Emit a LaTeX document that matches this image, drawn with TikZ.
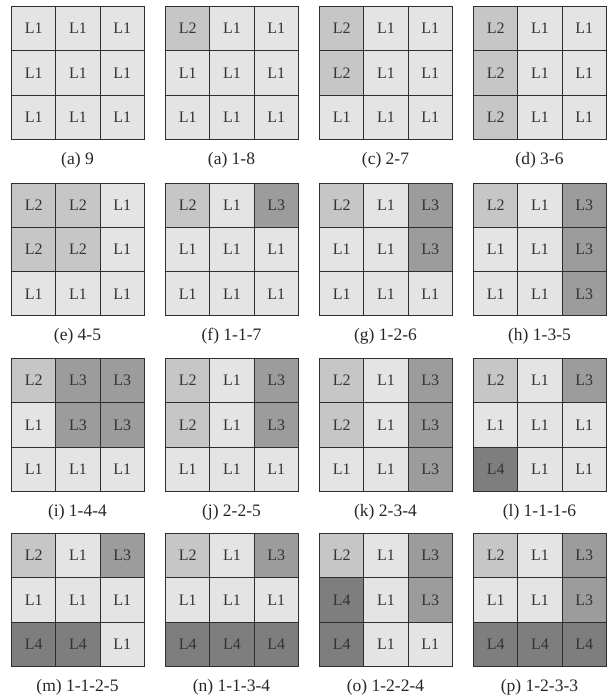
\documentclass[tikz,border=0pt]{standalone}
\usepackage{fontspec}
\setmainfont{Liberation Serif}
\definecolor{LevOne}{HTML}{E4E4E4}
\definecolor{LevTwo}{HTML}{C6C6C6}
\definecolor{LevThree}{HTML}{9C9C9C}
\definecolor{LevFour}{HTML}{7E7E7E}
\definecolor{GridLine}{HTML}{2E2E2E}
\definecolor{LabText}{HTML}{333333}

\begin{document}
\begin{tikzpicture}[x=1pt, y=-1pt,
            cell/.style={draw=GridLine, line width=1pt, minimum size=44.33pt,
                         inner sep=0pt, anchor=north west, text=LabText,
                         font=\fontsize{16}{16}\selectfont},
            lv1/.style={cell, fill=LevOne},
            lv2/.style={cell, fill=LevTwo},
            lv3/.style={cell, fill=LevThree},
            lv4/.style={cell, fill=LevFour},
            captext/.style={font=\fontsize{17.5}{17.5}\selectfont, text=black!85}]

            \useasboundingbox (0,0) rectangle (607,699);

            % panels: left, top, name, caption, levels of the nine cells
            \foreach \gx/\gy/\pid/\cap/\lvls in {
                11/6/pa/{(a) 9}/{1,1,1,1,1,1,1,1,1},
                165/6/pb/{(a) 1-8}/{2,1,1,1,1,1,1,1,1},
                319/6/pc/{(c) 2-7}/{2,1,1,2,1,1,1,1,1},
                473/6/pd/{(d) 3-6}/{2,1,1,2,1,1,2,1,1},
                11/182.5/pe/{(e) 4-5}/{2,2,1,2,2,1,1,1,1},
                165/182.5/pf/{(f) 1-1-7}/{2,1,3,1,1,1,1,1,1},
                319/182.5/pg/{(g) 1-2-6}/{2,1,3,1,1,3,1,1,1},
                473/182.5/ph/{(h) 1-3-5}/{2,1,3,1,1,3,1,1,3},
                11/358/pi/{(i) 1-4-4}/{2,3,3,1,3,3,1,1,1},
                165/358/pj/{(j) 2-2-5}/{2,1,3,2,1,3,1,1,1},
                319/358/pk/{(k) 2-3-4}/{2,1,3,2,1,3,1,1,3},
                473/358/pl/{(l) 1-1-1-6}/{2,1,3,1,1,1,4,1,1},
                11/533/pm/{(m) 1-1-2-5}/{2,1,3,1,1,1,4,4,1},
                165/533/pn/{(n) 1-1-3-4}/{2,1,3,1,1,1,4,4,4},
                319/533/po/{(o) 1-2-2-4}/{2,1,3,4,1,3,4,1,1},
                473/533/pp/{(p) 1-2-3-3}/{2,1,3,1,1,3,4,4,4}}{
              \foreach \l [count=\k from 0] in \lvls {
                \pgfmathtruncatemacro\col{mod(\k,3)}
                \pgfmathtruncatemacro\row{div(\k,3)}
                \node[lv\l] (\pid\k) at (\gx+\col*44.33, \gy+\row*44.33) {L\l};
              }
              \node[captext] (\pid cap) at (\gx+66.5, \gy+154) {\cap};
            }
        \end{tikzpicture}
\end{document}
